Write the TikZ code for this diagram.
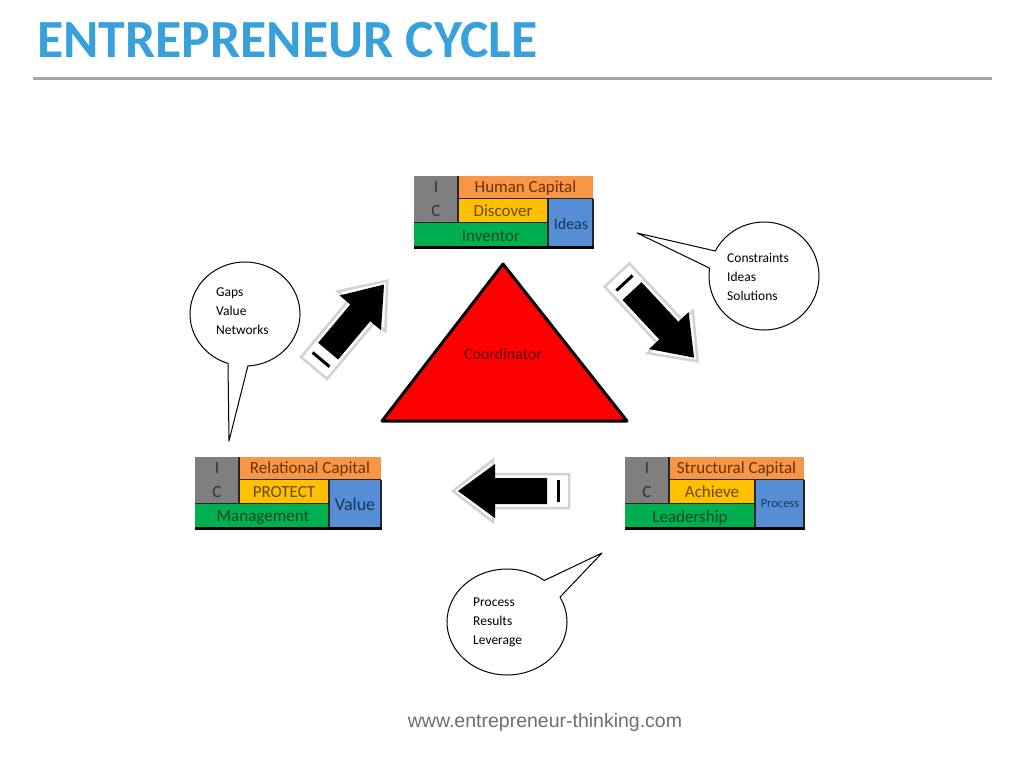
\documentclass[tikz,border=0pt]{standalone}
\usepackage{fontspec}
\usetikzlibrary{calc}
\setmainfont{Carlito}
\newfontfamily\arialfont{Liberation Sans}
\definecolor{titleblue}{HTML}{38A1DB}
\definecolor{rulegray}{HTML}{A6A6A6}
\definecolor{cgray}{HTML}{7F7F7F}
\definecolor{corange}{HTML}{F79646}
\definecolor{cyellow}{HTML}{FFC000}
\definecolor{cgreen}{HTML}{00B050}
\definecolor{cblue}{HTML}{558ED5}
\definecolor{tgray}{HTML}{333333}
\definecolor{torange}{HTML}{6E3200}
\definecolor{tyellow}{HTML}{6B4A00}
\definecolor{tgreen}{HTML}{0E4A24}
\definecolor{tblue}{HTML}{17365D}
\definecolor{tred}{HTML}{5C0000}
\definecolor{footgray}{HTML}{6E6E6E}
\tikzset{
  cellline/.style={draw=black!85, line width=1.2pt},
  basethick/.style={draw=black, line width=2.5pt},
  lbl/.style={inner sep=0pt, font=\fontsize{17}{20}\selectfont},
  btext/.style={anchor=base west, inner sep=0pt, font=\fontsize{13.5}{16}\selectfont},
  bubble/.style={draw=black, fill=white, line width=1pt, line join=round},
  arrowout/.style={draw=gray!35, fill=white, line width=2.5pt, line join=miter},
}
% #1 name, #2 left, #3 top, #4 gray right, #5 yellow right, #6 right, #7 orange text, #8 yellow text
\newcommand\icbox[8]{%
  \fill[cgray] (#2,#3) rectangle (#4,#3+46.5);
  \fill[corange] (#4,#3) rectangle (#6,#3+22.5);
  \fill[cyellow] (#4,#3+22.5) rectangle (#5,#3+46.5);
  \fill[cblue] (#5,#3+22.5) rectangle (#6,#3+71.5);
  \fill[cgreen] (#2,#3+46.5) rectangle (#5,#3+71.5);
  \draw[cellline] (#4,#3) -- (#4,#3+46.5);
  \draw[cellline] (#4,#3+22.5) -- (#6,#3+22.5);
  \draw[cellline] (#2,#3+46.5) -- (#5,#3+46.5);
  \draw[cellline] (#5,#3+22.5) -- (#5,#3+71.5);
  \draw[cellline] (#6,#3+22.5) -- (#6,#3+71.5);
  \draw[basethick] (#2,#3+71.5) -- (#6+0.6,#3+71.5);
  \node[lbl, text=tgray] (#1-i) at ({(#2+#4)/2},#3+11) {I};
  \node[lbl, text=tgray] (#1-c) at ({(#2+#4)/2},#3+35) {C};
  \node[lbl, text=torange] (#1-top) at ({(#4+#6)/2},#3+12) {#7};
  \node[lbl, text=tyellow] (#1-mid) at ({(#4+#5)/2},#3+35) {#8};
}
% #1 tail position, #2 angle, #3 length
\newcommand\blockarr[3]{%
  \begin{scope}[shift={#1}, rotate=#2]
    \draw[arrowout] (0,-17) -- (#3-40,-17) -- (#3-40,-31) -- (#3,0) -- (#3-40,31) -- (#3-40,17) -- (0,17) -- cycle;
    \fill[black] (22,-13) -- (#3-42,-13) -- (#3-42,-27) -- (#3-5,0) -- (#3-42,27) -- (#3-42,13) -- (22,13) -- cycle;
    \draw[line width=3pt] (11,-11) -- (11,11);
  \end{scope}}
\begin{document}
\begin{tikzpicture}[x=1pt, y=-1pt]
\useasboundingbox[fill=white] (0,0) rectangle (1024,768);

% title
\node[anchor=base west, inner sep=0pt, text=titleblue, font=\fontsize{53.7}{60}\selectfont\bfseries] (title) at (37,58) {ENTREPRENEUR CYCLE};
\draw[rulegray, line width=3pt] (33,78) -- (992,78);

% triangle
\draw[fill=red, draw=black, line width=3pt, line join=round] (503,264) -- (627,421) -- (382,421) -- cycle;
\node[inner sep=0pt, text=tred, font=\fontsize{16}{19}\selectfont] (coord) at (503,354) {Coordinator};

% IC boxes
\icbox{hc}{414}{176}{458}{548}{593}{Human Capital}{Discover}
\node[lbl, text=tgreen] (hc-bot) at (491,236.5) {Inventor};
\node[lbl, text=tblue, font=\fontsize{16}{19}\selectfont] (hc-blue) at (571,224) {Ideas};

\icbox{rc}{195}{457}{239}{329}{381}{Relational Capital}{PROTECT}
\node[lbl, text=tgreen] (rc-bot) at (263,517.5) {Management};
\node[lbl, text=tblue, font=\fontsize{18}{21}\selectfont] (rc-blue) at (355,504) {Value};

\icbox{sc}{625}{457}{669}{755}{804}{Structural Capital}{Achieve}
\node[lbl, text=tgreen] (sc-bot) at (690,517.5) {Leadership};
\node[lbl, text=tblue, font=\fontsize{12.5}{15}\selectfont] (sc-blue) at (780,504) {Process};

% block arrows
\blockarr{(314,368)}{50}{114}
\blockarr{(617,275)}{-47}{118}
\blockarr{(569,491)}{180}{116}

% speech bubbles
\coordinate (b1c) at (764,276);
\coordinate (b1tip) at (637,233);
\draw[bubble] ($(b1c)+(207.6:55 and 54)$) arc[start angle=207.6, end angle=548.4, x radius=55, y radius=54] -- (b1tip) -- cycle;
\node[btext] (b1a) at (727,262) {Constraints};
\node[btext] (b1b) at (727,281) {Ideas};
\node[btext] (b1c-t) at (727,300) {Solutions};

\coordinate (b2c) at (245,314);
\coordinate (b2tip) at (229,441);
\draw[bubble] ($(b2c)+(108:55 and 52)$) arc[start angle=108, end angle=447, x radius=55, y radius=52] -- (b2tip) -- cycle;
\node[btext] (b2a) at (216,296) {Gaps};
\node[btext] (b2b) at (216,315) {Value};
\node[btext] (b2c-t) at (216,334) {Networks};

\coordinate (b3c) at (507,622);
\coordinate (b3tip) at (602,553);
\draw[bubble] ($(b3c)+(-28:60 and 53)$) arc[start angle=-28, end angle=308.4, x radius=60, y radius=53] -- (b3tip) -- cycle;
\node[btext] (b3a) at (473,606) {Process};
\node[btext] (b3b) at (473,625) {Results};
\node[btext] (b3c-t) at (473,644) {Leverage};

% footer
\node[anchor=base, inner sep=0pt, text=footgray, font=\arialfont\fontsize{19.5}{22}\selectfont] (foot) at (545,727) {www.entrepreneur-thinking.com};
\end{tikzpicture}
\end{document}
